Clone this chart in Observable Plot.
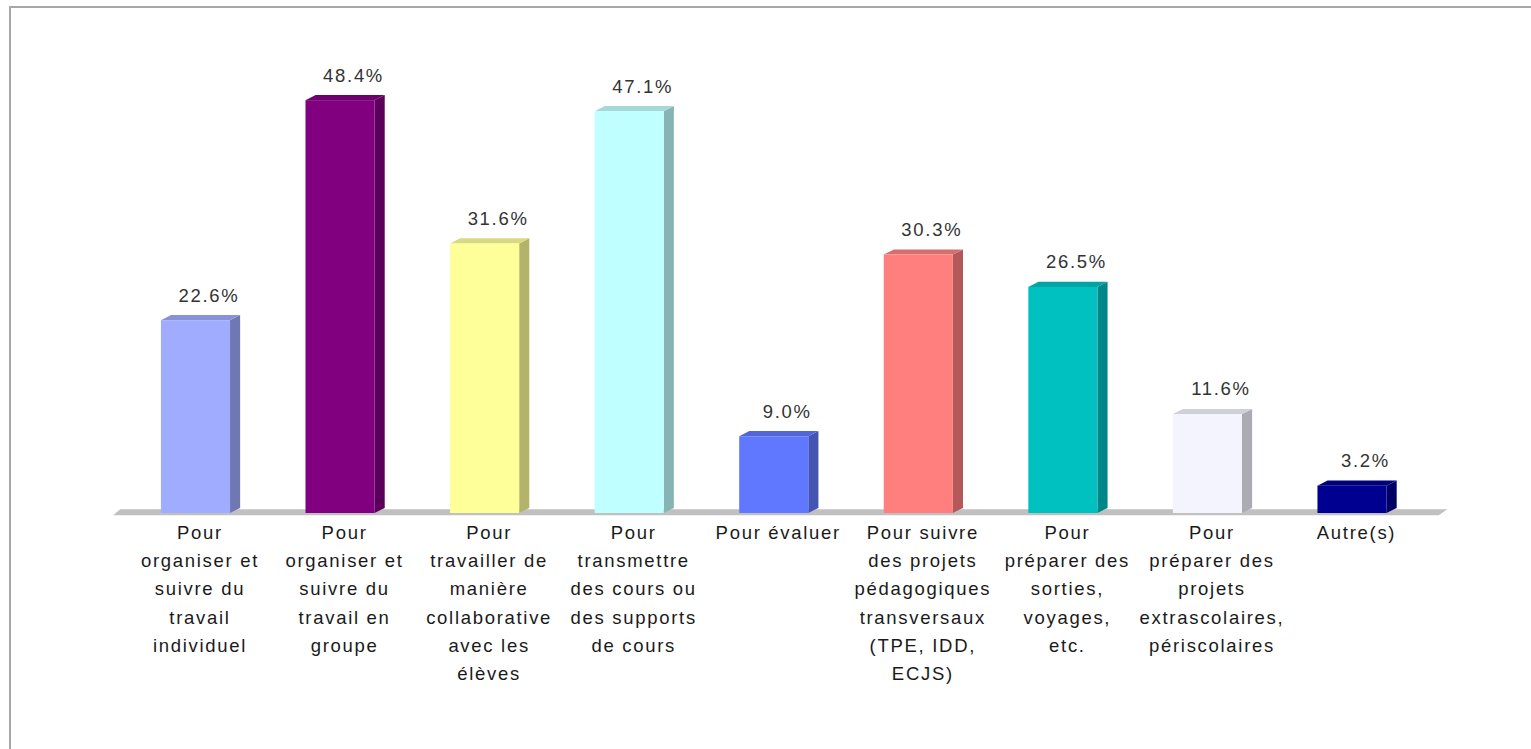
<!DOCTYPE html>
<html>
<head>
<meta charset="utf-8">
<script src="https://cdn.jsdelivr.net/npm/d3@7"></script>
<script src="https://cdn.jsdelivr.net/npm/@observablehq/plot@0.6"></script>
<style>
  html, body { margin: 0; padding: 0; background: #fff; }
  #wrap { position: relative; width: 1531px; height: 749px; overflow: hidden; }
  #border { position: absolute; left: 9px; top: 6px; width: 1600px; height: 800px;
            border-left: 2px solid #a8a8a8; border-top: 2px solid #a8a8a8; }
  #chart { position: absolute; left: 0; top: 0; }
  #chart svg text { letter-spacing: 1.7px; }
</style>
</head>
<body>
<div id="wrap"><div id="border"></div><div id="chart"></div></div>
<script>
// ---- data ----
const categories = [
  "Pour\norganiser et\nsuivre du\ntravail\nindividuel",
  "Pour\norganiser et\nsuivre du\ntravail en\ngroupe",
  "Pour\ntravailler de\nmanière\ncollaborative\navec les\nélèves",
  "Pour\ntransmettre\ndes cours ou\ndes supports\nde cours",
  "Pour évaluer",
  "Pour suivre\ndes projets\npédagogiques\ntransversaux\n(TPE, IDD,\nECJS)",
  "Pour\npréparer des\nsorties,\nvoyages,\netc.",
  "Pour\npréparer des\nprojets\nextrascolaires,\npériscolaires",
  "Autre(s)"
];
const values = [22.6, 48.4, 31.6, 47.1, 9.0, 30.3, 26.5, 11.6, 3.2];
const valueLabels = ["22.6%", "48.4%", "31.6%", "47.1%", "9.0%", "30.3%", "26.5%", "11.6%", "3.2%"];
const palette = ["#a0acff", "#800080", "#ffff99", "#c0ffff", "#6078ff", "#ff7f7f", "#00c0c0", "#f4f4ff", "#000090"];

// ---- geometry (3D look) ----
const half = 0.239;   // half bar width (x units)
const dxd = 0.07;     // depth offset along x
const dyd = 0.6;      // depth offset along y

const bars = values.map((v, i) => ({i, v, label: valueLabels[i], cat: categories[i],
  front: palette[i],
  side: d3.color(palette[i]).darker(1).formatHex(),
  top: d3.color(palette[i]).darker(0.45).formatHex()}));

const sides = bars.flatMap(b => [
  {i: b.i, x: b.i + half, y1: 0, y2: b.v, fill: b.side},
  {i: b.i, x: b.i + half + dxd, y1: dyd, y2: b.v + dyd, fill: b.side}
]);
const tops = bars.flatMap(b => [
  {i: b.i, x: b.i - half, y1: b.v, y2: b.v, fill: b.top},
  {i: b.i, x: b.i - half + dxd, y1: b.v, y2: b.v + dyd, fill: b.top},
  {i: b.i, x: b.i + half, y1: b.v, y2: b.v + dyd, fill: b.top},
  {i: b.i, x: b.i + half + dxd, y1: b.v + dyd, y2: b.v + dyd, fill: b.top}
]);
const floor = [
  {x: -0.57, y1: -0.25, y2: -0.25},
  {x: -0.52, y1: -0.25, y2: 0.45},
  {x: 8.60, y1: -0.25, y2: 0.45},
  {x: 8.66, y1: 0.45, y2: 0.45}
];

const font = "'Liberation Sans', Arial, sans-serif";
const chart = Plot.plot({
  width: 1531,
  height: 749,
  marginLeft: 123.2,
  marginRight: 106.7,
  marginTop: 86.5,
  marginBottom: 236,
  x: {domain: [-0.5, 8.5], axis: null},
  y: {domain: [0, 50], axis: null},
  color: {type: "identity"},
  style: {background: "transparent", fontFamily: font},
  marks: [
    Plot.areaY(floor, {x: "x", y1: "y1", y2: "y2", fill: "#c0c0c0"}),
    Plot.areaY(sides, {x: "x", y1: "y1", y2: "y2", z: "i", fill: "fill"}),
    Plot.areaY(tops, {x: "x", y1: "y1", y2: "y2", z: "i", fill: "fill"}),
    Plot.rectY(bars, {x1: d => d.i - half, x2: d => d.i + half, y1: 0, y2: "v", fill: "front"}),
    Plot.text(bars, {x: "i", y: "v", text: "label", dx: 13, dy: -25, fontSize: 18.5, fill: "#333", fontFamily: font}),
    Plot.text(bars, {x: "i", y: 0, text: "cat", dx: 4, dy: 5, lineAnchor: "top", lineHeight: 1.53, fontSize: 18.5, fill: "#1a1a1a", fontFamily: font})
  ]
});
document.getElementById("chart").appendChild(chart);
</script>
</body>
</html>
